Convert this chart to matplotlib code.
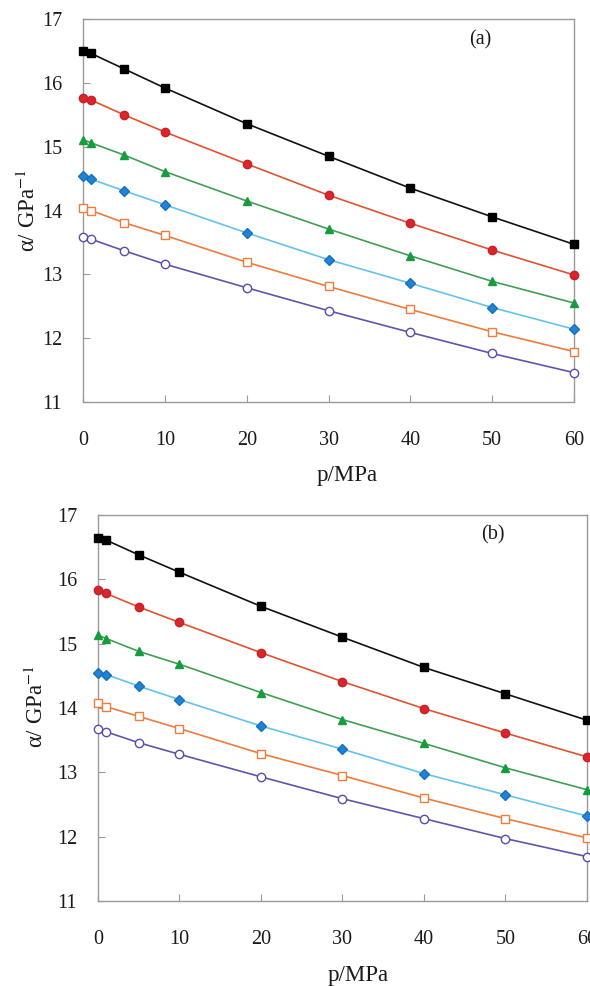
import matplotlib
matplotlib.use("Agg")
import matplotlib.pyplot as plt

plt.rcParams['font.family'] = ['Liberation Serif', 'DejaVu Serif']
plt.rcParams['mathtext.fontset'] = 'stix'

pressure = [0, 1, 5, 10, 20, 30, 40, 50, 60]

# panel (a)
a_black = [16.50, 16.46, 16.22, 15.92, 15.36, 14.85, 14.35, 13.90, 13.47]
a_red = [15.77, 15.73, 15.50, 15.23, 14.73, 14.24, 13.80, 13.38, 12.99]
a_green = [15.11, 15.06, 14.87, 14.61, 14.15, 13.71, 13.29, 12.89, 12.55]
a_blue = [14.54, 14.49, 14.31, 14.09, 13.65, 13.23, 12.86, 12.48, 12.14]
a_orange = [14.04, 14.00, 13.81, 13.61, 13.19, 12.81, 12.45, 12.10, 11.79]
a_purple = [13.58, 13.55, 13.37, 13.16, 12.79, 12.43, 12.09, 11.76, 11.46]

# panel (b)
b_black = [16.65, 16.61, 16.38, 16.11, 15.58, 15.10, 14.63, 14.22, 13.81]
b_red = [15.83, 15.78, 15.57, 15.33, 14.86, 14.41, 13.99, 13.61, 13.24]
b_green = [15.13, 15.08, 14.88, 14.68, 14.24, 13.82, 13.45, 13.07, 12.73]
b_blue = [14.55, 14.52, 14.34, 14.13, 13.72, 13.36, 12.98, 12.65, 12.32]
b_orange = [14.08, 14.02, 13.87, 13.68, 13.29, 12.95, 12.60, 12.28, 11.98]
b_purple = [13.67, 13.63, 13.46, 13.28, 12.93, 12.59, 12.28, 11.97, 11.69]

# (line colour, marker, marker face, marker edge)
styles = [
    ('#111111', 's', '#000000', '#000000'),
    ('#e2522e', 'o', '#d9262a', '#c8202a'),
    ('#3f9f55', '^', '#169c3c', '#169c3c'),
    ('#62c3ec', 'D', '#1f84d6', '#1a6fb8'),
    ('#ef7b3d', 's', 'white', '#ef7b3d'),
    ('#6054ad', 'o', 'white', '#5a4caa'),
]
msizes = [6.2, 6.0, 6.2, 4.8, 6.0, 6.0]

spine_col = '#9a9a9a'


def draw(ax, series, tag, ylab_xy, xlab_xy, tag_xy):
    for y, (lc, mk, fc, ec), ms in zip(series, styles, msizes):
        ax.plot(pressure, y, color=lc, lw=1.2, marker=mk, markersize=ms,
                markerfacecolor=fc, markeredgecolor=ec, markeredgewidth=1.0,
                clip_on=False, zorder=3)
    ax.set_xlim(0, 60)
    ax.set_ylim(11, 17)
    ax.set_xticks(range(0, 61, 10))
    ax.set_yticks(range(11, 18))
    for s in ax.spines.values():
        s.set_color(spine_col)
        s.set_linewidth(1.0)
    ax.tick_params(axis='both', direction='in', length=5, color=spine_col,
                   labelsize=14.5, labelcolor='#1a1a1a')
    ax.tick_params(axis='x', pad=21)
    ax.tick_params(axis='y', pad=15)
    ax.set_ylabel('α/ GPa$^{-1}$', fontsize=16.5, color='#1a1a1a')
    ax.yaxis.set_label_coords(*ylab_xy)
    ax.set_xlabel('p/MPa', fontsize=16.5, color='#1a1a1a')
    ax.xaxis.set_label_coords(*xlab_xy)
    ax.text(tag_xy[0], tag_xy[1], tag, transform=ax.transAxes, fontsize=14.5,
            ha='center', va='center', color='#1a1a1a')


fig = plt.figure(figsize=(5.9, 9.86), dpi=100)
ax1 = fig.add_axes([0.1407, 0.5923, 0.8323, 0.3884])
ax2 = fig.add_axes([0.1661, 0.0862, 0.8288, 0.3915])

draw(ax1, [a_black, a_red, a_green, a_blue, a_orange, a_purple], '(a)',
     (-0.088, 0.50), (0.538, -0.164), (0.809, 0.945))
draw(ax2, [b_black, b_red, b_green, b_blue, b_orange, b_purple], '(b)',
     (-0.102, 0.505), (0.532, -0.166), (0.808, 0.948))

fig.savefig('out.png', dpi=100)
